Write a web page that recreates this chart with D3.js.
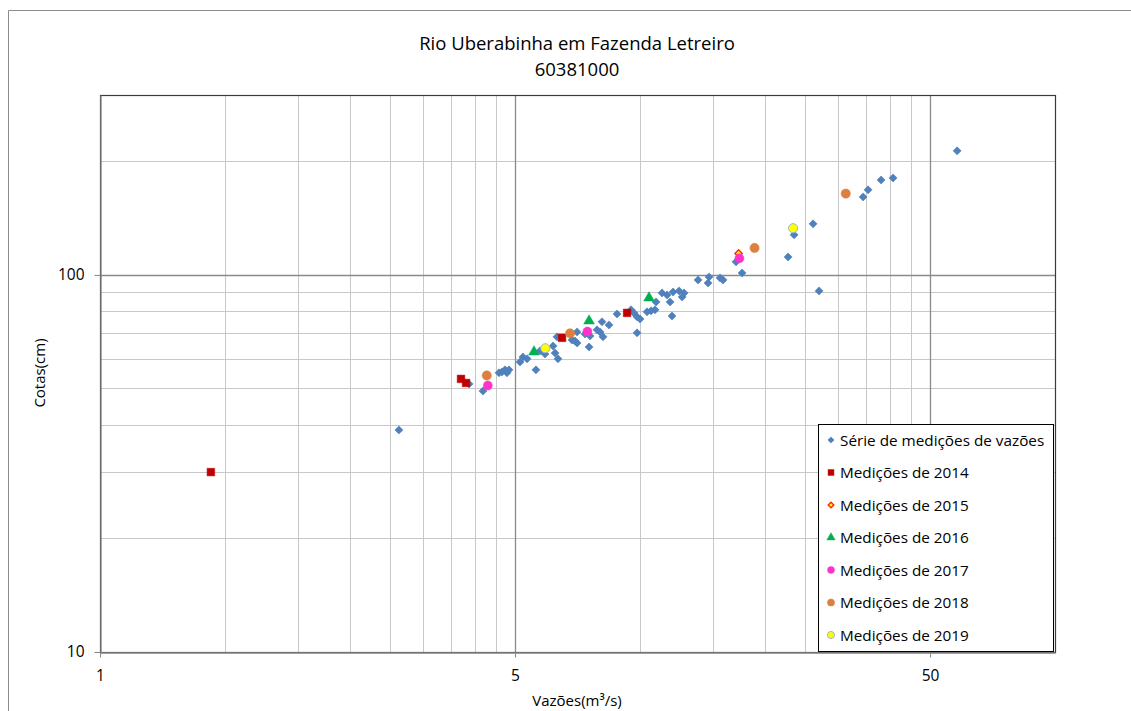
<!DOCTYPE html>
<html>
<head>
<meta charset="utf-8">
<script src="https://cdn.jsdelivr.net/npm/d3@7"></script>
<style>
  html, body { margin: 0; padding: 0; background: #fff; }
  svg { display: block; }
  text { font-family: "Open Sans", "Liberation Sans", sans-serif; fill: #000; }
</style>
</head>
<body>
<svg id="chart" width="1131" height="711"></svg>
<script>
// ---------------- Data ----------------
const titleLines = ["Rio Uberabinha em Fazenda Letreiro", "60381000"];
const xAxisTitle = "Vazões(m³/s)";
const yAxisTitle = "Cotas(cm)";

const xTickValues = [1, 10, 100];
const xTickLabels = ["1", "5", "50"];
const yTickValues = [10, 100];
const yTickLabels = ["10", "100"];

// Série de medições de vazões  [vazão m³/s, cota cm]
const serieVazoes = [5.25, 7.75, 8.37, 9.15, 9.30, 9.46, 9.56, 9.67, 10.28, 10.45,
  10.69, 11.23, 11.49, 11.81, 12.35, 12.49, 12.69, 12.62, 13.95, 13.72,
  14.11, 14.11, 14.75, 15.08, 15.16, 15.76, 16.03, 16.20, 16.29, 16.84,
  17.61, 19.03, 19.35, 19.68, 20.01, 19.68, 20.80, 21.27, 21.74, 21.87,
  22.61, 23.25, 23.64, 24.03, 24.85, 25.27, 25.55, 23.89, 27.61, 29.34,
  29.18, 31.19, 31.71, 35.24, 34.08, 45.49, 47.03, 52.25, 54.02, 68.97,
  70.90, 76.21, 81.44, 116.2];
const serieCotas = [38.8, 51.4, 49.2, 55.0, 55.3, 56.0, 55.0, 56.0, 58.8, 60.6,
  59.9, 56.0, 62.9, 61.7, 64.8, 62.1, 59.9, 68.5, 66.8, 67.2,
  66.0, 70.6, 69.7, 64.4, 68.9, 71.5, 70.6, 75.1, 68.5, 73.7,
  78.8, 80.8, 79.3, 77.4, 76.4, 70.2, 79.8, 80.3, 80.8, 84.8,
  89.6, 88.5, 84.8, 90.1, 90.7, 87.4, 89.6, 77.8, 97.0, 98.8,
  95.2, 98.2, 97.0, 101.2, 108.3, 111.6, 127.7, 136.6, 90.7, 161.0,
  168.1, 178.6, 180.8, 213.3];

const vazoes2014 = [1.85, 7.41, 7.62, 12.98, 18.62];
const cotas2014  = [30.0, 53.0, 51.7, 68.1, 79.3];
const vazoes2015 = [34.56];
const cotas2015  = [114.0];
const vazoes2016 = [11.11, 15.08, 21.03];
const cotas2016  = [62.5, 75.5, 86.9];
const vazoes2017 = [8.60, 14.94, 34.72];
const cotas2017  = [50.9, 70.8, 110.7];
const vazoes2018 = [8.55, 13.57, 37.77, 62.65];
const cotas2018  = [54.1, 70.0, 117.9, 164.3];
const vazoes2019 = [11.83, 46.77];
const cotas2019  = [63.9, 133.0];

const seriesNames = ["Série de medições de vazões", "Medições de 2014", "Medições de 2015",
  "Medições de 2016", "Medições de 2017", "Medições de 2018", "Medições de 2019"];

// ---------------- Layout ----------------
const svg = d3.select("#chart");
const plot = { left: 100, top: 95, right: 1055, bottom: 652 };

const x = d3.scaleLog().domain([1, 200]).range([plot.left, plot.right]);
const y = d3.scaleLog().domain([10, 300]).range([plot.bottom, plot.top]);

// outer chart border
svg.append("path")
  .attr("d", `M8.5,${711} V10.5 H1131`)
  .attr("fill", "none").attr("stroke", "#8c8c8c").attr("stroke-width", 1);

// gridlines
const xMinor = [2,3,4,5,6,7,8,9,20,30,40,50,60,70,80,90];
const xMajor = [10, 100];
const yMinor = [20,30,40,50,60,70,80,90,200];
const yMajor = [100];

const grid = svg.append("g");
grid.selectAll(".vx").data(xMinor).join("line")
  .attr("x1", d => Math.round(x(d)) + 0.5).attr("x2", d => Math.round(x(d)) + 0.5)
  .attr("y1", plot.top).attr("y2", plot.bottom)
  .attr("stroke", "#c8c8c8").attr("stroke-width", 1);
grid.selectAll(".hy").data(yMinor).join("line")
  .attr("y1", d => Math.round(y(d)) + 0.5).attr("y2", d => Math.round(y(d)) + 0.5)
  .attr("x1", plot.left).attr("x2", plot.right)
  .attr("stroke", "#c8c8c8").attr("stroke-width", 1);
grid.selectAll(".vxM").data(xMajor).join("line")
  .attr("x1", d => Math.round(x(d)) + 0.5).attr("x2", d => Math.round(x(d)) + 0.5)
  .attr("y1", plot.top).attr("y2", plot.bottom)
  .attr("stroke", "#8a8a8a").attr("stroke-width", 1.3);
grid.selectAll(".hyM").data(yMajor).join("line")
  .attr("y1", d => Math.round(y(d)) + 0.5).attr("y2", d => Math.round(y(d)) + 0.5)
  .attr("x1", plot.left).attr("x2", plot.right)
  .attr("stroke", "#8a8a8a").attr("stroke-width", 1.3);

// plot border
svg.append("rect")
  .attr("x", plot.left + 0.5).attr("y", plot.top + 0.5)
  .attr("width", plot.right - plot.left).attr("height", plot.bottom - plot.top)
  .attr("fill", "none").attr("stroke", "#3a3a3a").attr("stroke-width", 1.2);

// axes
const xAxis = d3.axisBottom(x).tickValues(xTickValues)
  .tickFormat((d, i) => xTickLabels[i]).tickSize(5).tickSizeOuter(0).tickPadding(12);
const yAxis = d3.axisLeft(y).tickValues(yTickValues)
  .tickFormat((d, i) => yTickLabels[i]).tickSize(6).tickSizeOuter(0).tickPadding(10);

const gx = svg.append("g").attr("transform", `translate(0,${plot.bottom + 0.5})`).call(xAxis);
const gy = svg.append("g").attr("transform", `translate(${plot.left + 0.5},0)`).call(yAxis);
[gx, gy].forEach(g => {
  g.select(".domain").attr("stroke", "#868686").attr("stroke-width", 1.3);
  g.selectAll(".tick line").attr("stroke", "#868686");
  g.selectAll(".tick text").style("font-size", "15.5px").attr("fill", "#000")
    .style("font-family", '"Open Sans", "Liberation Sans", sans-serif');
});

// titles
svg.append("text").attr("x", 577).attr("y", 50).attr("text-anchor", "middle")
  .style("font-size", "18.5px").text(titleLines[0]);
svg.append("text").attr("x", 577).attr("y", 76).attr("text-anchor", "middle")
  .style("font-size", "18.5px").text(titleLines[1]);
svg.append("text").attr("x", 577).attr("y", 706).attr("text-anchor", "middle")
  .style("font-size", "15px").text(xAxisTitle);
svg.append("text").attr("transform", "translate(45,373) rotate(-90)").attr("text-anchor", "middle")
  .style("font-size", "15px").text(yAxisTitle);

// ---------------- Markers ----------------
const styles = [
  { shape: "diamond", size: 32, fill: "#4F81BD", stroke: "#4F81BD", sw: 0.6 },
  { shape: "square", size: 58, fill: "#C00000", stroke: "#C00000", sw: 0.5 },
  { shape: "diamond", size: 26, fill: "#FFFF00", stroke: "#FF2A00", sw: 1.4 },
  { shape: "triangle", size: 50, fill: "#00B050", stroke: "#00B050", sw: 0.5 },
  { shape: "circle", size: 64, fill: "#FF33CC", stroke: "#FF33CC", sw: 0.5 },
  { shape: "circle", size: 68, fill: "#DD7F3E", stroke: "#DD7F3E", sw: 0.5 },
  { shape: "circle", size: 66, fill: "#FFFF00", stroke: "#9DB3D6", sw: 1 }
];
function markerPath(st, scale) {
  const s = st.size * (scale || 1);
  if (st.shape === "diamond" || st.shape === "square") return d3.symbol().type(d3.symbolSquare).size(s)();
  if (st.shape === "triangle") return d3.symbol().type(d3.symbolTriangle).size(s)();
  return d3.symbol().type(d3.symbolCircle).size(s)();
}
function drawSeries(xs, ys, st) {
  const data = xs.map((v, i) => [v, ys[i]]);
  svg.append("g").selectAll("path").data(data).join("path")
    .attr("d", markerPath(st))
    .attr("transform", d => `translate(${x(d[0])},${y(d[1])})` + (st.shape === "diamond" ? " rotate(45)" : ""))
    .attr("fill", st.fill).attr("stroke", st.stroke).attr("stroke-width", st.sw);
}
drawSeries(serieVazoes, serieCotas, styles[0]);
drawSeries(vazoes2014, cotas2014, styles[1]);
drawSeries(vazoes2015, cotas2015, styles[2]);
drawSeries(vazoes2016, cotas2016, styles[3]);
drawSeries(vazoes2017, cotas2017, styles[4]);
drawSeries(vazoes2018, cotas2018, styles[5]);
drawSeries(vazoes2019, cotas2019, styles[6]);

// ---------------- Legend ----------------
const lg = svg.append("g");
lg.append("rect").attr("x", 818.5).attr("y", 424.5).attr("width", 235).attr("height", 227)
  .attr("fill", "#fff").attr("stroke", "#000").attr("stroke-width", 1);
seriesNames.forEach((name, i) => {
  const cy = 440 + i * 32.5;
  const st = styles[i];
  lg.append("path").attr("d", markerPath(st, 0.6))
    .attr("transform", `translate(831,${cy})` + (st.shape === "diamond" ? " rotate(45)" : ""))
    .attr("fill", st.fill).attr("stroke", st.stroke).attr("stroke-width", st.sw);
  lg.append("text").attr("x", 840).attr("y", cy + 5.5).style("font-size", "15.3px").text(name);
});
</script>
</body>
</html>
